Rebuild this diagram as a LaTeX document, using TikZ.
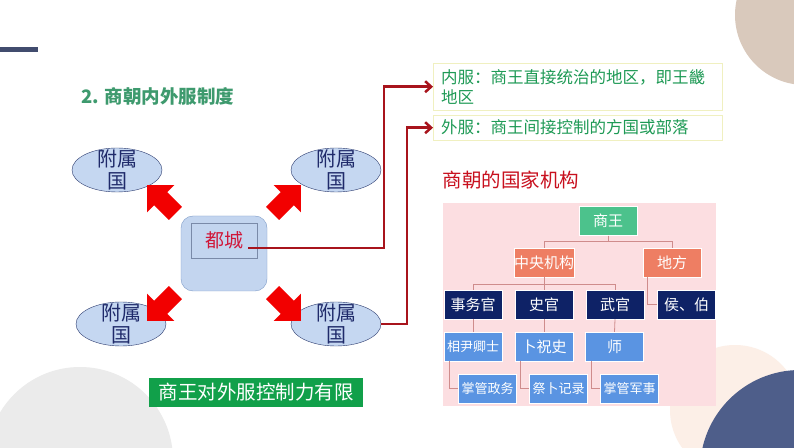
\documentclass[tikz,border=0pt]{standalone}
\usepackage{fontspec}
\setmainfont{Noto Sans CJK SC}
\usetikzlibrary{shapes.geometric,shapes.arrows,arrows.meta,positioning}
\definecolor{barblue}{HTML}{414C6E}
\definecolor{tan}{HTML}{D9C9BC}
\definecolor{peach}{HTML}{FCEFE7}
\definecolor{darkblue}{HTML}{4E5E8A}
\definecolor{greyround}{HTML}{EBEBEB}
\definecolor{fsfill}{HTML}{C5D7F1}
\definecolor{fsline}{HTML}{2B3A6E}
\definecolor{fstext}{HTML}{1F2A6A}
\definecolor{arrowred}{HTML}{F20000}
\definecolor{linkred}{HTML}{A8141C}
\definecolor{notegreen}{HTML}{1E9A55}
\definecolor{noteline}{HTML}{F0F0C0}
\definecolor{titlegreen}{HTML}{3E9A6E}
\definecolor{capred}{HTML}{C8101E}
\definecolor{dured}{HTML}{D0183A}
\definecolor{kinggreen}{HTML}{4CC28C}
\definecolor{salmon}{HTML}{EE7E63}
\definecolor{navy}{HTML}{0E2266}
\definecolor{subblue}{HTML}{5A94E2}
\definecolor{treeline}{HTML}{CF8C8C}
\definecolor{pinkbg}{HTML}{FCDEE1}
\definecolor{bannergreen}{HTML}{11A04A}
\definecolor{boxfill}{HTML}{C3D5EF}
\definecolor{boxline}{HTML}{7F9CC8}
\definecolor{innerline}{HTML}{7A8AA8}
\begin{document}
\begin{tikzpicture}[x=1pt, y=1pt,
    fsg/.style    = {ellipse, draw=fsline, fill=fsfill, minimum width=90, minimum height=44, inner sep=0},
    fstext/.style = {text=fstext, font=\fontsize{20}{22}\selectfont, align=center},
    bigarrow/.style = {single arrow, fill=arrowred, minimum height=40, minimum width=38,
                       single arrow head extend=10, inner sep=9},
    link/.style   = {draw=linkred, line width=2.5, -{Straight Barb[length=6,width=11]}},
    note/.style   = {draw=noteline, text=notegreen, font=\fontsize{16.5}{20}\selectfont, text width=273,
                     inner xsep=8, inner ysep=3, align=left, anchor=north west},
    orgbox/.style = {minimum width=58, minimum height=29, inner sep=0, draw=white, text=white,
                     font=\fontsize{15}{15}\selectfont},
    kingbox/.style = {orgbox, fill=kinggreen},
    midbox/.style  = {orgbox, fill=salmon},
    offbox/.style  = {orgbox, fill=navy},
    subbox/.style  = {orgbox, fill=subblue},
    small/.style   = {font=\fontsize{13}{13}\selectfont},
    tree/.style    = {draw=treeline, line width=0.8}
]
\useasboundingbox (0,0) rectangle (794,447);
\fill[white] (0,0) rectangle (794,447);
\begin{scope}
    \clip (0,0) rectangle (794,447);
    \fill[tan]       (805,432) circle (70);
    \fill[peach]     (735,37)  circle (65);
    \fill[darkblue]  (800,-23) circle (100);
    \fill[greyround] (80,-13)  circle (93);
\end{scope}
\fill[barblue] (0,395) rectangle (38,400);

\node[anchor=west, text=titlegreen, font=\bfseries\fontsize{18.5}{18.5}\selectfont] (title) at (78,351) {2. 商朝内外服制度};

\node[fsg] (fs1) at (117,277) {};
\node[fsg] (fs2) at (336,277) {};
\node[fsg] (fs3) at (121,123) {};
\node[fsg] (fs4) at (336,123) {};
\node[fstext] (fs1t) at (fs1) {附属\\国};
\node[fstext] (fs2t) at (fs2) {附属\\国};
\node[fstext] (fs3t) at (fs3) {附属\\国};
\node[fstext] (fs4t) at (fs4) {附属\\国};

\node[draw=boxline, fill=boxfill, rounded corners=12, minimum width=86, minimum height=75] (dcbox) at (224,193.5) {};
\node[draw=innerline, minimum width=66, minimum height=35, text=dured, font=\fontsize{19}{19}\selectfont] (dc) at (224,206.5) {都城};

\node[bigarrow, rotate=135] (ar1) at (164.5,244.5) {};
\node[bigarrow, rotate=45]  (ar2) at (283.5,244.5) {};
\node[bigarrow, rotate=225] (ar3) at (164.5,143.5) {};
\node[bigarrow, rotate=-45] (ar4) at (283.5,143.5) {};

\node[note, minimum height=47] (nf) at (433,384) {内服：商王直接统治的地区，即王畿\\地区};
\node[note, minimum height=25] (wf) at (433,332) {外服：商王间接控制的方国或部落};

\draw[link] ([xshift=-9,yshift=-7.5]dc.east) -- ++(136,0) |- (nf.west);
\draw[link] (fs4.east) -- ++(26,0) |- (wf.west);

\node[anchor=west, text=capred, font=\fontsize{19.5}{19.5}\selectfont] (jg) at (439,267) {商朝的国家机构};

\fill[pinkbg] (443,41) rectangle (716,244);

\node[kingbox] (sw)  at (608,226)   {商王};
\node[midbox]  (zy)  at (544,184.5) {中央机构};
\node[midbox]  (df)  at (672,184.5) {地方};
\node[offbox]  (swg) at (473,142.5) {事务官};
\node[offbox]  (sg)  at (544,142.5) {史官};
\node[offbox]  (wg)  at (615,142.5) {武官};
\node[offbox]  (hb)  at (686.5,142.5) {侯、伯};
\node[subbox, small] (xy)  at (473,100.5)   {相尹卿士};
\node[subbox]        (bz)  at (544,100.5)   {卜祝史};
\node[subbox]        (sh)  at (614.5,100.5) {师};
\node[subbox, small] (zg1) at (487.5,58.5)  {掌管政务};
\node[subbox, small] (jb)  at (558.5,58.5)  {祭卜记录};
\node[subbox, small] (zg2) at (629.5,58.5)  {掌管军事};

\draw[tree] (sw.south) -- ++(0,-6) -| (zy.north);
\draw[tree] (sw.south) -- ++(0,-6) -| (df.north);
\draw[tree] (zy.south) -- ++(0,-7) -| (swg.north);
\draw[tree] (zy.south) -- ++(0,-7) -| (wg.north);
\draw[tree] (zy.south) -- (sg.north);
\draw[tree] ([xshift=5]df.south west) |- (hb.west);
\draw[tree] (swg.south) -- (xy.north);
\draw[tree] (sg.south) -- (bz.north);
\draw[tree] (wg.south) -- (sh.north);
\draw[tree] ([xshift=6]xy.south west) |- (zg1.west);
\draw[tree] ([xshift=6]bz.south west) |- (jb.west);
\draw[tree] ([xshift=6]sh.south west) |- (zg2.west);

\node[fill=bannergreen, text=white, minimum width=214, minimum height=29, inner sep=0,
      font=\fontsize{19.5}{19.5}\selectfont] (xz) at (256,54.5) {商王对外服控制力有限};
\end{tikzpicture}
\end{document}
